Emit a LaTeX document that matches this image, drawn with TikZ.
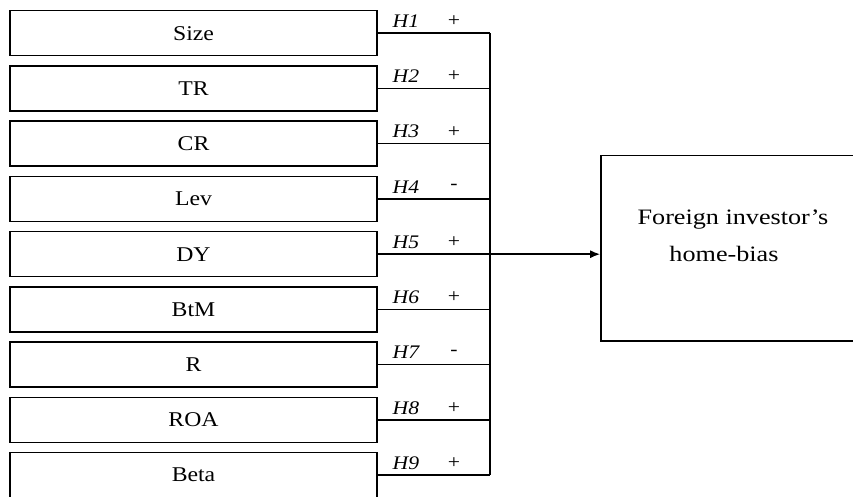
\documentclass[tikz,border=0pt]{standalone}
\usepackage{fontspec}
\setmainfont[FakeStretch=1.13]{Liberation Serif}
\newfontfamily\widefont[FakeStretch=1.19, Ligatures=TeX]{Liberation Serif}
\usetikzlibrary{arrows.meta}
\begin{document}
\begin{tikzpicture}[x=0.5pt,y=-0.5pt,
	varbox/.style={draw, thick, minimum width=183.5pt, minimum height=22.5pt,
		inner sep=0pt, font=\fontsize{10.5}{12}\selectfont},
	hyplabel/.style={font=\fontsize{9.6}{11}\selectfont\itshape},
	signlabel/.style={font=\fontsize{9.6}{11}\selectfont},
	outtext/.style={font=\fontsize{11}{13}\widefont, inner sep=0pt}]
	\useasboundingbox (0,0) rectangle (853,497);
	% Variablen links
	\foreach \name/\hnum/\sgn [count=\i from 0] in {Size/1/+, TR/2/+, CR/3/+,
		Lev/4/-, DY/5/+, BtM/6/+, R/7/-, ROA/8/+, Beta/9/+}
	{
		\pgfmathsetmacro{\ypos}{33.2+55.25*\i}
		\node[varbox] (v\i) at (193.5, \ypos) {\name};
		\coordinate (j\i) at (490, \ypos);
		\draw[thick] (v\i.east) -- (j\i);
		% Hypothesen
		\node[hyplabel] (h\i) at (406, \ypos-12) {H\hnum};
		\node[signlabel] (g\i) at (454, \ypos-12) {\sgn};
	}
	% Sammelleitung
	\draw[thick] (j0) -- (j8);
	% Zielgroesse rechts
	\node[draw, thick, minimum width=130pt, minimum height=92.6pt, inner sep=0pt]
		(out) at (731, 248.3) {};
	\node[outtext] (t1) at (733, 220) {Foreign investor's};
	\node[outtext] (t2) at (724, 254) {home-bias};
	\draw[thick, -{Latex[length=5pt, width=4pt]}] (v4.east) -- (v4.east -| out.west);
\end{tikzpicture}
\end{document}
